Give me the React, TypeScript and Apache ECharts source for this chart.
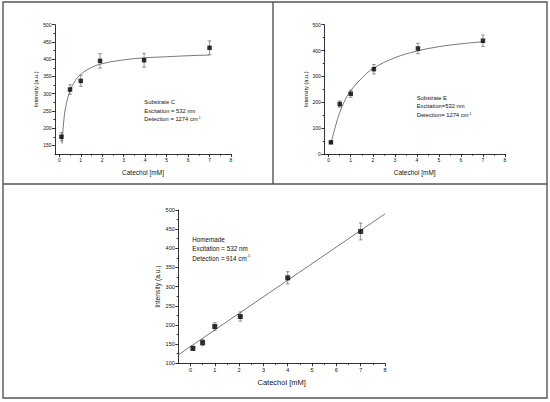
import React, { useEffect, useRef } from "react";
import * as echarts from "echarts";

// ---- data ----
const xC = [0.1, 0.5, 1.0, 1.9, 3.95, 7.0];
const yC = [175, 312, 337, 395, 397, 433];
const eC = [12, 14, 16, 21, 20, 20];
const fitCx = [0.13, 0.2, 0.3, 0.5, 0.75, 1, 1.5, 2, 3, 4, 5, 6, 7];
const fitCy = [155, 215, 262, 308, 338, 356, 376, 387, 398, 404, 407, 410, 412];

const xE = [0.1, 0.5, 1.0, 2.05, 4.05, 7.0];
const yE = [45, 193, 233, 328, 408, 438];
const eE = [4, 12, 14, 18, 20, 22];
const fitEx = [0.1, 0.3, 0.5, 0.75, 1, 1.5, 2, 3, 4, 5, 6, 7];
const fitEy = [40, 105, 160, 210, 245, 293, 330, 372, 398, 415, 426, 434];

const xH = [0.1, 0.5, 1.0, 2.05, 4.0, 7.0];
const yH = [139, 154, 196, 222, 323, 444];
const eH = [5, 8, 10, 12, 16, 22];
const fitHx = [-0.5, 8];
const fitHy = [122, 490];

const xTicks = [0, 1, 2, 3, 4, 5, 6, 7, 8];
const xMinorTicks = [0.5, 1.5, 2.5, 3.5, 4.5, 5.5, 6.5, 7.5];
const yTicksC = [150, 200, 250, 300, 350, 400, 450, 500];
const yMinorC = [175, 225, 275, 325, 375, 425, 475];
const yTicksE = [0, 100, 200, 300, 400, 500];
const yMinorE = [50, 150, 250, 350, 450];
const yTicksH = [100, 150, 200, 250, 300, 350, 400, 450, 500];
const yMinorH = [125, 175, 225, 275, 325, 375, 425, 475];

const FONT = "'Liberation Sans', Arial, sans-serif";

function zip(a: number[], b: number[]) {
  return a.map((v, i) => [v, b[i]]);
}
function zip3(a: number[], b: number[], c: number[]) {
  return a.map((v, i) => [v, b[i], c[i]]);
}

export default function App() {
  const ref = useRef<HTMLDivElement>(null);
  useEffect(() => {
    document.body.style.margin = "0";
    const chart = echarts.init(ref.current!, null, { renderer: "svg" });

    const grids = [
      { left: 55, top: 24.7, width: 176, height: 129.3 },
      { left: 324.3, top: 24.7, width: 180.7, height: 129.3 },
      { left: 178.3, top: 210, width: 206.7, height: 153.3 },
    ];
    const xMins = [-0.2, -0.2, -0.5];
    const yRanges = [
      [125, 500],
      [0, 500],
      [100, 500],
    ];
    const yMajor = [yTicksC, yTicksE, yTicksH];
    const yMinor = [yMinorC, yMinorE, yMinorH];
    const labelSize = [5, 5, 5.5];
    const nameSize = [6.5, 6.5, 7.5];
    const xNameGap = [15, 15, 15];
    const yNameGap = [13.5, 13.5, 17];

    const axisLineStyle = { color: "#000", width: 0.8 };
    const xAxis: any[] = [];
    const yAxis: any[] = [];
    for (let g = 0; g < 3; g++) {
      xAxis.push({
        type: "value",
        gridIndex: g,
        min: xMins[g],
        max: 8,
        position: "bottom",
        name: "Catechol [mM]",
        nameLocation: "middle",
        nameGap: xNameGap[g],
        nameTextStyle: { fontFamily: FONT, fontSize: nameSize[g], color: "#111" },
        axisLine: { onZero: false, lineStyle: axisLineStyle },
        axisTick: { customValues: xTicks, length: 3, lineStyle: axisLineStyle },
        axisLabel: {
          customValues: xTicks,
          fontFamily: FONT,
          fontSize: labelSize[g],
          color: "#111",
          margin: 3.5,
        },
        splitLine: { show: false },
      });
      xAxis.push({
        type: "value",
        gridIndex: g,
        min: xMins[g],
        max: 8,
        position: "bottom",
        axisLine: { show: false, onZero: false },
        axisTick: { customValues: xMinorTicks, length: 1.6, lineStyle: axisLineStyle },
        axisLabel: { show: false },
        splitLine: { show: false },
      });
      yAxis.push({
        type: "value",
        gridIndex: g,
        min: yRanges[g][0],
        max: yRanges[g][1],
        position: "left",
        name: "Intensity (a.u.)",
        nameLocation: "middle",
        nameGap: yNameGap[g],
        nameTextStyle: { fontFamily: FONT, fontSize: nameSize[g] - 0.8, color: "#111" },
        axisLine: { onZero: false, lineStyle: axisLineStyle },
        axisTick: { customValues: yMajor[g], length: 3, lineStyle: axisLineStyle },
        axisLabel: {
          customValues: yMajor[g],
          fontFamily: FONT,
          fontSize: labelSize[g],
          color: "#111",
          margin: 3.5,
        },
        splitLine: { show: false },
      });
      yAxis.push({
        type: "value",
        gridIndex: g,
        min: yRanges[g][0],
        max: yRanges[g][1],
        position: "left",
        axisLine: { show: false, onZero: false },
        axisTick: { customValues: yMinor[g], length: 1.6, lineStyle: axisLineStyle },
        axisLabel: { show: false },
        splitLine: { show: false },
      });
    }

    const datasets = [
      { pts: zip3(xC, yC, eC), fit: zip(fitCx, fitCy), smooth: true, size: 4.5 },
      { pts: zip3(xE, yE, eE), fit: zip(fitEx, fitEy), smooth: true, size: 4.5 },
      { pts: zip3(xH, yH, eH), fit: zip(fitHx, fitHy), smooth: false, size: 5 },
    ];

    const series: any[] = [];
    datasets.forEach((d, g) => {
      const xi = g * 2;
      const yi = g * 2;
      series.push({
        type: "line",
        xAxisIndex: xi,
        yAxisIndex: yi,
        data: d.fit,
        smooth: d.smooth ? 0.4 : false,
        symbol: "none",
        lineStyle: { color: "#555", width: 0.8 },
        z: 2,
      });
      series.push({
        type: "custom",
        xAxisIndex: xi,
        yAxisIndex: yi,
        data: d.pts,
        z: 3,
        renderItem: (params: any, api: any) => {
          const x = api.value(0);
          const y = api.value(1);
          const e = api.value(2);
          const top = api.coord([x, y + e]);
          const bot = api.coord([x, y - e]);
          const hw = 1.8;
          const st = { stroke: "#666", lineWidth: 0.7 };
          return {
            type: "group",
            children: [
              { type: "line", shape: { x1: top[0], y1: top[1], x2: bot[0], y2: bot[1] }, style: st },
              { type: "line", shape: { x1: top[0] - hw, y1: top[1], x2: top[0] + hw, y2: top[1] }, style: st },
              { type: "line", shape: { x1: bot[0] - hw, y1: bot[1], x2: bot[0] + hw, y2: bot[1] }, style: st },
            ],
          };
        },
      });
      series.push({
        type: "scatter",
        xAxisIndex: xi,
        yAxisIndex: yi,
        data: d.pts.map((p) => [p[0], p[1]]),
        symbol: "rect",
        symbolSize: d.size,
        itemStyle: { color: "#000" },
        z: 4,
      });
    });

    const frame = { stroke: "#555", lineWidth: 1.4, fill: "none" };
    const txt = (x: number, y: number, text: string, size: number) => ({
      type: "text",
      x,
      y,
      style: {
        text,
        fontFamily: FONT,
        fontSize: size,
        fill: "#111",
        verticalAlign: "middle",
        rich: {
          sup: { fontFamily: FONT, fontSize: size * 0.6, fill: "#111", verticalAlign: "top", padding: [0, 0, size * 0.5, 0] },
        },
      },
    });

    chart.setOption({
      animation: false,
      backgroundColor: "#fff",
      grid: grids,
      xAxis,
      yAxis,
      series,
      graphic: [
        { type: "rect", shape: { x: 3, y: 2, width: 544, height: 396 }, style: frame, silent: true },
        { type: "line", shape: { x1: 3, y1: 184, x2: 547, y2: 184 }, style: frame, silent: true },
        { type: "line", shape: { x1: 273, y1: 2, x2: 273, y2: 184 }, style: frame, silent: true },
        txt(144.3, 102.3, "Substrate C", 5.8),
        txt(144.3, 110.7, "Excitation = 532 nm", 5.8),
        txt(144.3, 119, "Detection = 1274 cm{sup|-1}", 5.8),
        txt(416.7, 97.7, "Substrate E", 5.8),
        txt(416.7, 106, "Excitation=532 nm", 5.8),
        txt(416.7, 115, "Detection= 1274 cm{sup|-1}", 5.8),
        txt(192.3, 239.3, "Homemade", 6.3),
        txt(192.3, 248.7, "Excitation = 532 nm", 6.3),
        txt(192.3, 258, "Detection = 914 cm{sup|-1}", 6.3),
      ],
    });
    return () => chart.dispose();
  }, []);
  return <div ref={ref} style={{ width: 550, height: 402 }} />;
}
